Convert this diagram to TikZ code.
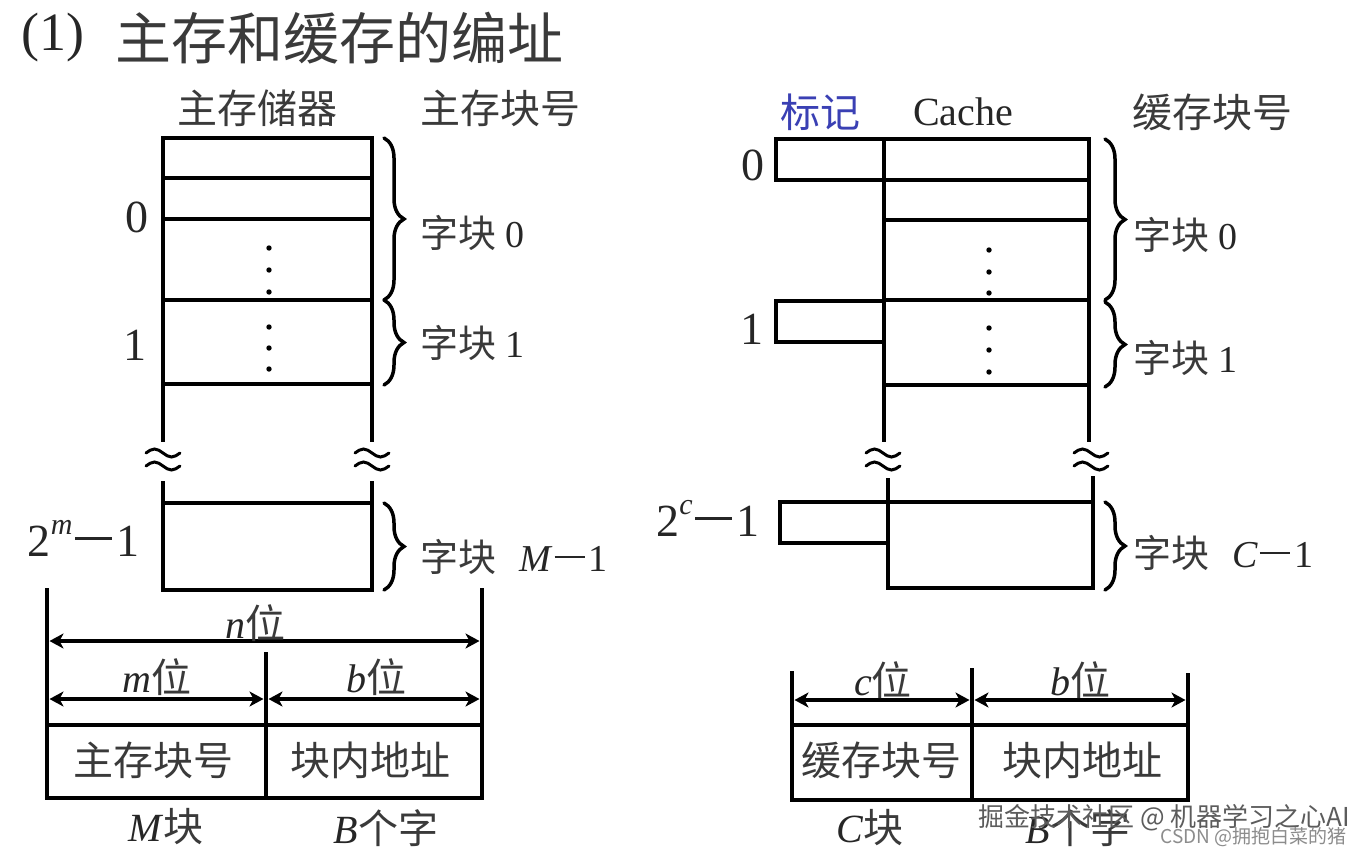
\documentclass[tikz,border=0pt]{standalone}
\usepackage{fontspec}
\setmainfont{Liberation Serif}
\newfontfamily\cj{Noto Sans CJK SC}
\usetikzlibrary{arrows.meta,decorations.pathreplacing}
\definecolor{txt}{HTML}{262626}
\definecolor{cjtxt}{HTML}{3A3A3A}
\definecolor{tagblue}{HTML}{3A40B4}
\definecolor{wmA}{HTML}{5C5C5C}
\definecolor{wmB}{HTML}{8C8C8C}
\newcommand\mminus{\kern0.06em\rule[0.36em]{0.8em}{0.055em}\kern0.1em}
\newcommand\supi[1]{\raisebox{0.48em}{\fontsize{30}{30}\selectfont\itshape #1}}
\newcommand\cjt[1]{{\cj\color{cjtxt}#1}}
\begin{document}
\begin{tikzpicture}[x=1pt,y=-1pt,
  ln/.style={line width=4.5pt, line cap=rect, line join=miter},
  brc/.style={decorate, decoration={brace, amplitude=20pt}, line width=3.5pt, line cap=round},
  dimarr/.style={line width=3.8pt, {Stealth[length=14pt,width=15pt,inset=4pt]}-{Stealth[length=14pt,width=15pt,inset=4pt]}},
  wv/.style={line width=3pt, line cap=round},
  tx/.style={inner sep=0pt, text=txt},
  hd/.style={tx, font=\fontsize{40}{40}\selectfont},
  idx/.style={tx, font=\fontsize{46}{46}\selectfont},
  bl/.style={tx, anchor=west, font=\fontsize{38}{38}\selectfont}]
\useasboundingbox (0,0) rectangle (1362,855);
\fill[white] (0,0) rectangle (1362,855);

% title
\node[tx, font=\fontsize{54}{54}\selectfont] (tnum) at (53,38) {(1)};
\node[tx, anchor=west, font=\fontsize{56}{56}\selectfont] (ttl) at (115,38) {\cjt{主存和缓存的编址}};

% headers
\node[hd] (hmem) at (257,108) {\cjt{主存储器}};
\node[hd] (hmno) at (500,108) {\cjt{主存块号}};
\node[hd, text=tagblue] (htag) at (820,112) {{\cj 标记}};
\node[hd] (hcache) at (963,112) {Cache};
\node[hd] (hcno) at (1212,112) {\cjt{缓存块号}};

% ---------- main memory ----------
\draw[ln] (163,440) -- (163,138) -- (372,138) -- (372,440);
\foreach \yy in {178,219,300,384} \draw[ln] (163,\yy) -- (372,\yy);
\draw[ln] (163,483) -- (163,590) -- (372,590) -- (372,483);
\draw[ln] (163,503) -- (372,503);
\foreach \yy in {248,270,292,327,348,369} \fill (269,\yy) circle (2.7pt);

\node[idx] (m0) at (137,217) {0};
\node[idx] (m1) at (135,345) {1};
\node[idx, anchor=east] (mlast) at (140,538) {2\supi{m}\mminus 1};

\draw[brc] (384,138) -- (384,300);
\draw[brc] (384,300) -- (384,385);
\draw[brc] (384,503) -- (384,590);
\node[bl] (mb0) at (420,233) {\cjt{字块} 0};
\node[bl] (mb1) at (420,343) {\cjt{字块} 1};
\node[bl] (mbl) at (420,557) {\cjt{字块}\hspace{0.6em}\textit{M}\mminus 1};

% ---------- cache ----------
\draw[ln] (884,440) -- (884,139) -- (1089,139) -- (1089,440);
\draw[ln] (884,139) -- (776,139) -- (776,180) -- (884,180);
\foreach \yy in {180,220,300,385} \draw[ln] (884,\yy) -- (1089,\yy);
\draw[ln] (884,301) -- (776,301) -- (776,342) -- (884,342);
\draw[ln] (888,480) -- (888,588) -- (1093,588) -- (1093,478);
\draw[ln] (888,502) -- (1093,502);
\draw[ln] (888,502) -- (780,502) -- (780,543) -- (888,543);
\foreach \yy in {250,272,293,328,350,372} \fill (989,\yy) circle (2.7pt);

\node[idx] (c0) at (753,165) {0};
\node[idx] (c1) at (752,329) {1};
\node[idx, anchor=east] (clast) at (760,518) {2\supi{c}\mminus 1};

\draw[brc] (1105,139) -- (1105,300);
\draw[brc] (1105,302) -- (1105,387);
\draw[brc] (1105,502) -- (1105,590);
\node[bl] (cb0) at (1133,235) {\cjt{字块} 0};
\node[bl] (cb1) at (1133,358) {\cjt{字块} 1};
\node[bl] (cbl) at (1133,553) {\cjt{字块}\hspace{0.6em}\textit{C}\mminus 1};

% break marks
\foreach \wx in {163,372,883,1091} {
  \foreach \wy in {453,466} {
    \draw[wv] ({\wx-17},\wy) sin ({\wx-8.5},{\wy-4}) cos (\wx,\wy) sin ({\wx+8.5},{\wy+4}) cos ({\wx+17},\wy);
  }
}

% ---------- main memory address ----------
\draw[ln] (47,590) -- (47,798) -- (482,798) -- (482,590);
\draw[ln] (47,725) -- (482,725);
\draw[ln] (266,654) -- (266,798);
\draw[dimarr] (49.5,641) -- (479.5,641);
\draw[dimarr] (49.5,699) -- (263.5,699);
\draw[dimarr] (268.5,699) -- (479.5,699);
\node[hd] (nbits) at (255,623) {\textit{n}\cjt{位}};
\node[hd] (mbits) at (157,677) {\textit{m}\cjt{位}};
\node[hd] (bbits) at (376,677) {\textit{b}\cjt{位}};
\node[hd] (fmno) at (153,760) {\cjt{主存块号}};
\node[hd] (fmoff) at (370,760) {\cjt{块内地址}};
\node[hd] (mcnt) at (166,827) {\textit{M}\cjt{块}};
\node[hd] (mwd) at (386,828) {\textit{B}\cjt{个字}};

% ---------- cache address ----------
\draw[ln] (792,673) -- (792,800) -- (1188,800) -- (1188,675);
\draw[ln] (792,725) -- (1188,725);
\draw[ln] (972,670) -- (972,800);
\draw[dimarr] (794.5,700) -- (969.5,700);
\draw[dimarr] (974.5,700) -- (1185.5,700);
\node[hd] (cbits) at (883,680) {\textit{c}\cjt{位}};
\node[hd] (bbits2) at (1080,680) {\textit{b}\cjt{位}};
\node[hd] (fcno) at (881,760) {\cjt{缓存块号}};
\node[hd] (fcoff) at (1082,760) {\cjt{块内地址}};
\node[hd] (ccnt) at (870,828) {\textit{C}\cjt{块}};
\node[hd] (cwd) at (1078,828) {\textit{B}\cjt{个字}};

% watermarks
\node[inner sep=0pt, anchor=west, text=wmA, font=\cj\fontsize{26}{26}\selectfont] (wm1) at (978,818) {掘金技术社区 @ 机器学习之心AI};
\node[inner sep=0pt, anchor=east, text=wmB, font=\cj\fontsize{19}{19}\selectfont] (wm2) at (1347,837) {CSDN @拥抱白菜的猪};
\end{tikzpicture}
\end{document}
